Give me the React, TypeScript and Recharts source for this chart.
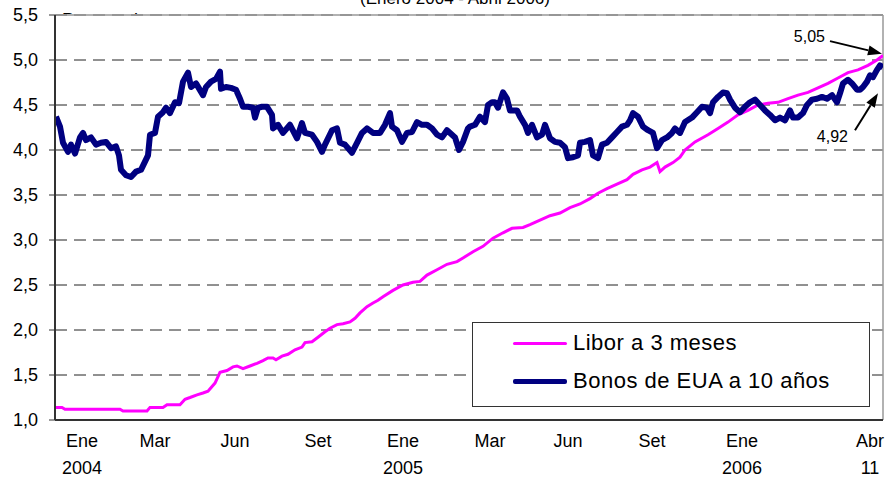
import React from "react";
import {
  LineChart,
  Line,
  XAxis,
  YAxis,
  CartesianGrid,
  ReferenceLine,
} from "recharts";

// dias desde el 2 de enero de 2004 (aprox.)
const bonosDia = [
  1, 5, 8, 13, 16, 20, 25, 28, 31, 36, 41, 46, 51, 56, 61, 64, 66, 71, 76, 81,
  86, 90, 93, 95, 100, 103, 108, 111, 115, 120, 124, 128, 133, 136, 141, 148,
  151, 156, 161, 165, 166, 171, 176, 181, 185, 188, 193, 198, 200, 203, 207,
  212, 217, 218, 223, 228, 235, 242, 247, 250, 257, 262, 267, 270, 277, 282,
  285, 290, 297, 302, 307, 312, 318, 325, 330, 335, 337, 342, 347, 352, 357,
  362, 367, 372, 377, 382, 387, 392, 397, 400, 404, 408, 413, 415, 420, 425,
  430, 433, 437, 440, 443, 448, 452, 455, 462, 465, 470, 473, 477, 482, 487,
  490, 495, 500, 505, 510, 513, 518, 523, 525, 530, 535, 538, 543, 547, 552,
  557, 562, 567, 572, 575, 578, 583, 588, 593, 598, 602, 607, 612, 617, 620,
  625, 630, 637, 642, 647, 652, 655, 658, 663, 668, 672, 675, 680, 685, 690,
  695, 700, 705, 710, 715, 720, 725, 730, 735, 738, 743, 748, 752, 757, 762,
  767, 772, 777, 782, 785, 788, 793, 797, 802, 805, 808, 812, 815, 818, 822,
  825, 828,
];
const bonosValor = [
  4.37, 4.26, 4.08, 3.98, 4.06, 3.96, 4.14, 4.19, 4.11, 4.14, 4.06, 4.08, 4.09,
  4.02, 4.04, 3.94, 3.78, 3.72, 3.7, 3.76, 3.78, 3.87, 3.94, 4.17, 4.19, 4.37,
  4.42, 4.47, 4.41, 4.53, 4.52, 4.76, 4.86, 4.7, 4.74, 4.61, 4.7, 4.76, 4.79,
  4.87, 4.68, 4.7, 4.69, 4.67, 4.57, 4.48, 4.48, 4.47, 4.36, 4.47, 4.48, 4.48,
  4.39, 4.24, 4.28, 4.19, 4.28, 4.13, 4.3, 4.19, 4.17, 4.09, 3.98, 4.06, 4.22,
  4.24, 4.08, 4.06, 3.97, 4.08, 4.19, 4.24, 4.19, 4.19, 4.28, 4.41, 4.26, 4.22,
  4.09, 4.19, 4.2, 4.31, 4.28, 4.28, 4.24, 4.17, 4.14, 4.22, 4.17, 4.14, 4.0,
  4.09, 4.24, 4.26, 4.28, 4.37, 4.31, 4.5, 4.53, 4.53, 4.47, 4.64, 4.57, 4.44,
  4.44, 4.37, 4.28, 4.19, 4.28, 4.14, 4.17, 4.28, 4.13, 4.09, 4.08, 4.03, 3.91,
  3.92, 3.94, 4.08, 4.09, 4.11, 3.94, 3.91, 4.06, 4.08, 4.14, 4.2, 4.26, 4.28,
  4.33, 4.41, 4.37, 4.26, 4.22, 4.19, 4.02, 4.11, 4.14, 4.19, 4.24, 4.19, 4.31,
  4.36, 4.42, 4.48, 4.47, 4.41, 4.53, 4.59, 4.64, 4.63, 4.56, 4.47, 4.42, 4.48,
  4.53, 4.56, 4.5, 4.44, 4.39, 4.33, 4.36, 4.33, 4.44, 4.36, 4.36, 4.41, 4.5,
  4.56, 4.57, 4.59, 4.57, 4.61, 4.53, 4.63, 4.74, 4.78, 4.74, 4.67, 4.67, 4.7,
  4.76, 4.83, 4.81, 4.89, 4.94, 4.92,
];

const liborDia = [
  0, 7, 10, 65, 68, 92, 95, 108, 112, 125, 130, 135, 142, 148, 153, 160, 165,
  172, 178, 182, 188, 195, 202, 208, 213, 218, 221, 227, 233, 240, 247, 250,
  257, 263, 270, 275, 282, 288, 295, 300, 305, 312, 318, 323, 328, 338, 348,
  358, 365, 372, 382, 392, 402, 408, 418, 428, 438, 448, 457, 468, 475, 485,
  495, 505, 515, 525, 535, 543, 552, 562, 572, 578, 587, 595, 602, 605, 610,
  618, 625, 630, 640, 653, 663, 673, 683, 693, 703, 713, 723, 733, 743, 753,
  763, 773, 783, 793, 803, 813, 822, 828,
];
const liborValor = [
  1.14, 1.14, 1.12, 1.12, 1.1, 1.1, 1.14, 1.14, 1.17, 1.17, 1.23, 1.25, 1.28,
  1.3, 1.32, 1.41, 1.53, 1.55, 1.59, 1.6, 1.57, 1.6, 1.63, 1.66, 1.69, 1.69,
  1.67, 1.71, 1.73, 1.78, 1.81, 1.86, 1.87, 1.92, 1.98, 2.02, 2.06, 2.07, 2.09,
  2.13, 2.19, 2.26, 2.3, 2.33, 2.37, 2.44, 2.5, 2.53, 2.54, 2.61, 2.67, 2.73,
  2.76, 2.8, 2.87, 2.93, 3.02, 3.08, 3.13, 3.14, 3.17, 3.22, 3.27, 3.3, 3.36,
  3.4, 3.46, 3.52, 3.57, 3.62, 3.67, 3.73, 3.78, 3.81, 3.86, 3.76, 3.81, 3.86,
  3.92, 4.0, 4.09, 4.17, 4.24, 4.31, 4.39, 4.44, 4.5, 4.52, 4.53, 4.57, 4.61,
  4.64, 4.69, 4.74, 4.8, 4.86, 4.89, 4.94, 5.0, 5.05,
];

const xTicks = [27, 100, 180, 263, 348, 435, 513, 597, 687, 815];
const mesLabels = ["Ene", "Mar", "Jun", "Set", "Ene", "Mar", "Jun", "Set", "Ene", "Abr"];
const anioLabels = ["2004", "", "", "", "2005", "", "", "", "2006", "11"];
const yTicks = [1, 1.5, 2, 2.5, 3, 3.5, 4, 4.5, 5, 5.5];

const seriesNombres = ["Libor a 3 meses", "Bonos de EUA a 10 años"];
const seriesColores = ["#ff00ff", "#000080"];

// anotaciones: texto, origen y punta de la flecha (dia, valor)
const anotTexto = ["5,05", "4,92"];
const anotDesde = [
  { d: 775, v: 5.21 },
  { d: 800, v: 4.22 },
];
const anotHasta = [
  { d: 827, v: 5.07 },
  { d: 823, v: 4.63 },
];

const liborData = liborDia.map((d, i) => ({ d, v: liborValor[i] }));
const bonosData = bonosDia.map((d, i) => ({ d, v: bonosValor[i] }));

const FONT = "'Liberation Sans', Arial, sans-serif";

const fmt = (v: number) => v.toFixed(1).replace(".", ",");

function XTick(props: any) {
  const { x, y, payload } = props;
  const i = xTicks.indexOf(payload.value);
  return (
    <g>
      <text x={x} y={y + 25} textAnchor="middle" fontSize={18} fill="#000" fontFamily={FONT}>
        {mesLabels[i]}
      </text>
      <text x={x} y={y + 52} textAnchor="middle" fontSize={18} fill="#000" fontFamily={FONT}>
        {anioLabels[i]}
      </text>
    </g>
  );
}

function flecha(texto: string, dx: number, dy: number) {
  return (props: any) => {
    const { x1, y1, x2, y2 } = props;
    const ang = Math.atan2(y2 - y1, x2 - x1);
    const L = 14;
    const W = 5;
    const bx = x2 - L * Math.cos(ang);
    const by = y2 - L * Math.sin(ang);
    const px = -Math.sin(ang) * W;
    const py = Math.cos(ang) * W;
    return (
      <g>
        <line x1={x1} y1={y1} x2={bx} y2={by} stroke="#000" strokeWidth={2} />
        <polygon
          points={`${x2},${y2} ${bx + px},${by + py} ${bx - px},${by - py}`}
          fill="#000"
        />
        <text x={x1 + dx} y={y1 + dy} textAnchor="end" fontSize={16} fill="#000" fontFamily={FONT}>
          {texto}
        </text>
      </g>
    );
  };
}

export default function App() {
  return (
    <div
      style={{
        position: "absolute",
        left: 0,
        top: 0,
        width: 886,
        height: 479,
        background: "#fff",
        overflow: "hidden",
        fontFamily: FONT,
      }}
    >
      <LineChart
        width={886}
        height={479}
        margin={{ top: 15, right: 3, bottom: 0, left: 0 }}
      >
        <CartesianGrid
          vertical={false}
          stroke="#222"
          strokeDasharray="12 7"
        />
        <XAxis
          type="number"
          dataKey="d"
          domain={[0, 828]}
          ticks={xTicks}
          tick={<XTick />}
          tickLine={false}
          tickSize={0}
          height={59}
          axisLine={{ stroke: "#333", strokeWidth: 2 }}
          allowDataOverflow
        />
        <YAxis
          type="number"
          domain={[1, 5.5]}
          ticks={yTicks}
          tickFormatter={fmt}
          width={55}
          tickSize={6}
          tickMargin={11}
          tick={{ fontSize: 18, fill: "#000", fontFamily: FONT }}
          tickLine={{ stroke: "#333" }}
          axisLine={{ stroke: "#333", strokeWidth: 2 }}
          interval={0}
        />
        <ReferenceLine y={5.5} stroke="#999" strokeWidth={1.5} />
        <ReferenceLine x={828} stroke="#999" strokeWidth={1.5} />
        <Line
          data={liborData}
          dataKey="v"
          type="linear"
          stroke={seriesColores[0]}
          strokeWidth={3}
          dot={false}
          isAnimationActive={false}
        />
        <Line
          data={bonosData}
          dataKey="v"
          type="linear"
          stroke={seriesColores[1]}
          strokeWidth={6}
          strokeLinejoin="round"
          dot={false}
          isAnimationActive={false}
        />
        <ReferenceLine
          segment={[
            { x: anotDesde[0].d, y: anotDesde[0].v },
            { x: anotHasta[0].d, y: anotHasta[0].v },
          ]}
          shape={flecha(anotTexto[0], -5, 1)}
          ifOverflow="visible"
        />
        <ReferenceLine
          segment={[
            { x: anotDesde[1].d, y: anotDesde[1].v },
            { x: anotHasta[1].d, y: anotHasta[1].v },
          ]}
          shape={flecha(anotTexto[1], -7, 12)}
          ifOverflow="visible"
        />
      </LineChart>

      {/* titulo, cortado arriba */}
      <div
        style={{
          position: "absolute",
          top: -11,
          left: 0,
          width: 910,
          textAlign: "center",
          fontSize: 17,
          color: "#000",
        }}
      >
        (Enero 2004 - Abril 2006)
      </div>
      <div
        style={{
          position: "absolute",
          top: 0,
          left: 62,
          height: 14,
          width: 120,
          overflow: "hidden",
        }}
      >
        <div style={{ position: "absolute", top: 10, left: 0, fontSize: 18, whiteSpace: "nowrap" }}>
          Porcentaje
        </div>
      </div>

      {/* leyenda */}
      <div
        style={{
          position: "absolute",
          left: 472,
          top: 322,
          width: 396,
          height: 83,
          border: "1px solid #333",
          background: "#fff",
        }}
      >
        {seriesNombres.map((n, i) => (
          <div
            key={n}
            style={{
              position: "absolute",
              left: 40,
              top: i === 0 ? 6 : 44,
              height: 28,
              display: "flex",
              alignItems: "center",
              fontSize: 22,
              letterSpacing: 0.5,
              whiteSpace: "nowrap",
            }}
          >
            <span
              style={{
                display: "inline-block",
                width: 54,
                height: i === 0 ? 3 : 5,
                background: seriesColores[i],
                borderRadius: 2,
                marginRight: 6,
              }}
            />
            {n}
          </div>
        ))}
      </div>
    </div>
  );
}
